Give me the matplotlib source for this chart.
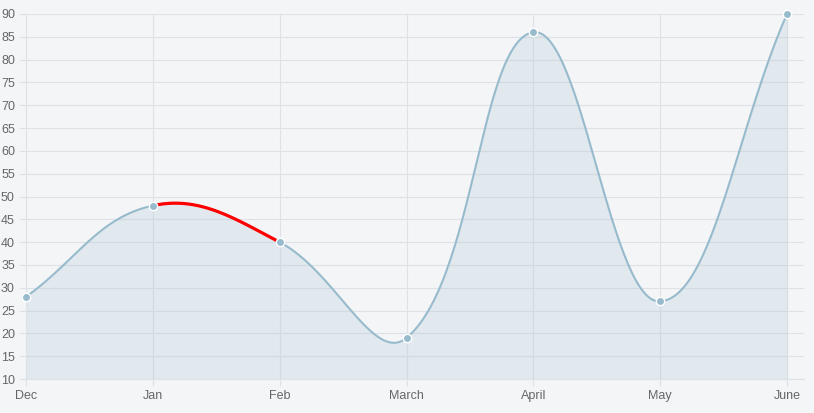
import numpy as np
import matplotlib.pyplot as plt

months = ['Dec', 'Jan', 'Feb', 'March', 'April', 'May', 'June']
values = [28, 48, 40, 19, 86, 27, 90]
highlight = (1, 2)  # segment drawn in red: Jan -> Feb

y_ticks = list(range(10, 95, 5))

bg = '#f4f5f7'
line_col = '#97bbcd'
grid_col = '#dfe2e5'

W, H = 814, 413
fig = plt.figure(figsize=(W / 100, H / 100), dpi=100, facecolor=bg)
left, right, top, bottom = 26, 804, 14, 379
ax = fig.add_axes([left / W, 1 - bottom / H, (right - left) / W, (bottom - top) / H])
ax.set_facecolor(bg)

n = len(months)
x_last_px = 787
ax.set_xlim(0, (n - 1) * (right - left) / (x_last_px - left))
ax.set_ylim(10, 90)
fig.canvas.draw()


def spline_segments(xs, ys, tension=0.4):
    # Chart.js style bezier control points, computed in pixel space
    pts = ax.transData.transform(np.column_stack([xs, ys]))
    ctrl = []
    for i in range(len(pts)):
        p0 = pts[max(i - 1, 0)]
        p1 = pts[i]
        p2 = pts[min(i + 1, len(pts) - 1)]
        d01 = np.hypot(*(p1 - p0))
        d12 = np.hypot(*(p2 - p1))
        tot = d01 + d12 if d01 + d12 else 1
        fa = tension * d01 / tot
        fb = tension * d12 / tot
        ctrl.append((p1 - fa * (p2 - p0), p1 + fb * (p2 - p0)))
    segs = []
    t = np.linspace(0, 1, 60)[:, None]
    for i in range(len(pts) - 1):
        a, b = pts[i], pts[i + 1]
        c1, c2 = ctrl[i][1], ctrl[i + 1][0]
        seg = ((1 - t) ** 3) * a + 3 * ((1 - t) ** 2) * t * c1 + 3 * (1 - t) * t ** 2 * c2 + t ** 3 * b
        segs.append(ax.transData.inverted().transform(seg))
    return segs


xs = np.arange(n)
segs = spline_segments(xs, values)
curve = np.vstack(segs)

# grid
for yv in y_ticks:
    ax.axhline(yv, color=grid_col, lw=0.8, zorder=0)
for xv in xs:
    ax.axvline(xv, color=grid_col, lw=0.8, zorder=0)

ax.fill_between(curve[:, 0], curve[:, 1], 10, color=line_col, alpha=0.2, lw=0, zorder=1)
ax.plot(curve[:, 0], curve[:, 1], color=line_col, lw=1.5, zorder=2, clip_on=False)
red = segs[highlight[0]]
ax.plot(red[:, 0], red[:, 1], color='red', lw=2.3, zorder=3, solid_capstyle='round')
ax.plot(xs, values, 'o', ms=6, mfc=line_col, mec='white', mew=1, zorder=4, clip_on=False)

ax.set_xticks(xs)
ax.set_xticklabels(months)
ax.set_yticks(y_ticks)
for s in ['top', 'right']:
    ax.spines[s].set_visible(False)
for s in ['left', 'bottom']:
    ax.spines[s].set_color(grid_col)
    ax.spines[s].set_linewidth(0.8)
ax.tick_params(colors=grid_col, length=5, width=0.8, labelcolor='#666666',
               labelsize=9, pad=3)
for lbl in ax.get_xticklabels() + ax.get_yticklabels():
    lbl.set_fontfamily('Liberation Sans')

fig.savefig('out.png', dpi=100, facecolor=bg)
